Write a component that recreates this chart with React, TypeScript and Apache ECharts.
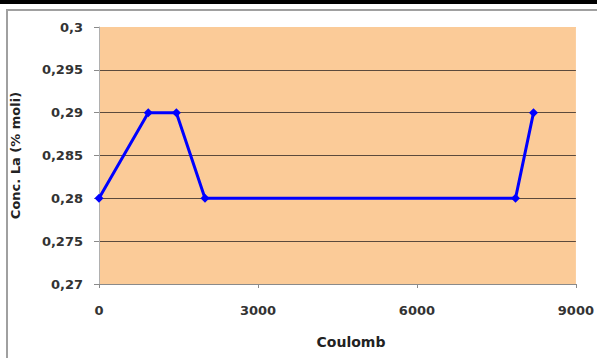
import React, { useEffect, useRef } from "react";
import * as echarts from "echarts";

const coulomb = [0, 930, 1460, 2000, 7860, 8200];
const concLa = [0.28, 0.29, 0.29, 0.28, 0.28, 0.29];
const xTicks = { min: 0, max: 9000, interval: 3000 };
const yTicks = { min: 0.27, max: 0.3, interval: 0.005 };
const xName = "Coulomb";
const yName = "Conc. La (% moli)";

const FONT = "DejaVu Sans";

export default function App() {
  const ref = useRef<HTMLDivElement>(null);
  useEffect(() => {
    if (!ref.current) return;
    const chart = echarts.init(ref.current, null, { renderer: "svg" });
    const peach = "#FBCB98";
    const grid = "#5b4a3c";
    chart.setOption({
      animation: false,
      backgroundColor: "#ffffff",
      graphic: [
        { type: "rect", shape: { x: 0, y: 0, width: 597, height: 4 }, style: { fill: "#000" } },
        {
          type: "rect",
          shape: { x: 7, y: 10, width: 620, height: 380 },
          style: { fill: "none", stroke: "#a0a0a0", lineWidth: 2 },
        },
        {
          type: "text",
          x: 351,
          y: 342,
          style: {
            text: xName,
            font: `bold 14px "${FONT}"`,
            fill: "#222",
            align: "center",
            verticalAlign: "middle",
          },
        },
      ],
      grid: {
        left: 99,
        right: 20,
        top: 27,
        bottom: 74,
        show: true,
        backgroundColor: peach,
        borderWidth: 0,
      },
      xAxis: {
        type: "value",
        min: xTicks.min,
        max: xTicks.max,
        interval: xTicks.interval,
        axisLine: { show: true, lineStyle: { color: "#8a8a8a", width: 1 } },
        axisTick: { show: true, length: 4, lineStyle: { color: "#8a8a8a" } },
        axisLabel: {
          margin: 20,
          fontFamily: FONT,
          fontSize: 13,
          fontWeight: "bold",
          color: "#333",
          formatter: (v: number) => String(v),
        },
        splitLine: { show: false },
      },
      yAxis: {
        type: "value",
        min: yTicks.min,
        max: yTicks.max,
        interval: yTicks.interval,
        name: yName,
        nameLocation: "middle",
        nameGap: 77,
        nameTextStyle: { fontFamily: FONT, fontWeight: "bold", fontSize: 13, color: "#222" },
        axisLine: { show: true, lineStyle: { color: "#b0b0b0", width: 1 } },
        axisTick: { show: true, length: 5, lineStyle: { color: "#8a8a8a" } },
        axisLabel: {
          margin: 16,
          fontFamily: FONT,
          fontSize: 13,
          fontWeight: "bold",
          color: "#333",
          formatter: (v: number) => String(parseFloat(v.toFixed(3))).replace(".", ","),
        },
        splitLine: {
          show: true,
          lineStyle: { color: [grid, grid, grid, grid, grid, grid, peach], width: 1 },
        },
      },
      series: [
        {
          type: "line",
          data: coulomb.map((x, i) => [x, concLa[i]]),
          lineStyle: { color: "#0000FF", width: 3 },
          itemStyle: { color: "#0000FF" },
          symbol: "diamond",
          symbolSize: 9,
          showSymbol: true,
        },
      ],
    });
    return () => chart.dispose();
  }, []);
  return (
    <div
      ref={ref}
      style={{ position: "fixed", left: 0, top: 0, width: 597, height: 358 }}
    />
  );
}
